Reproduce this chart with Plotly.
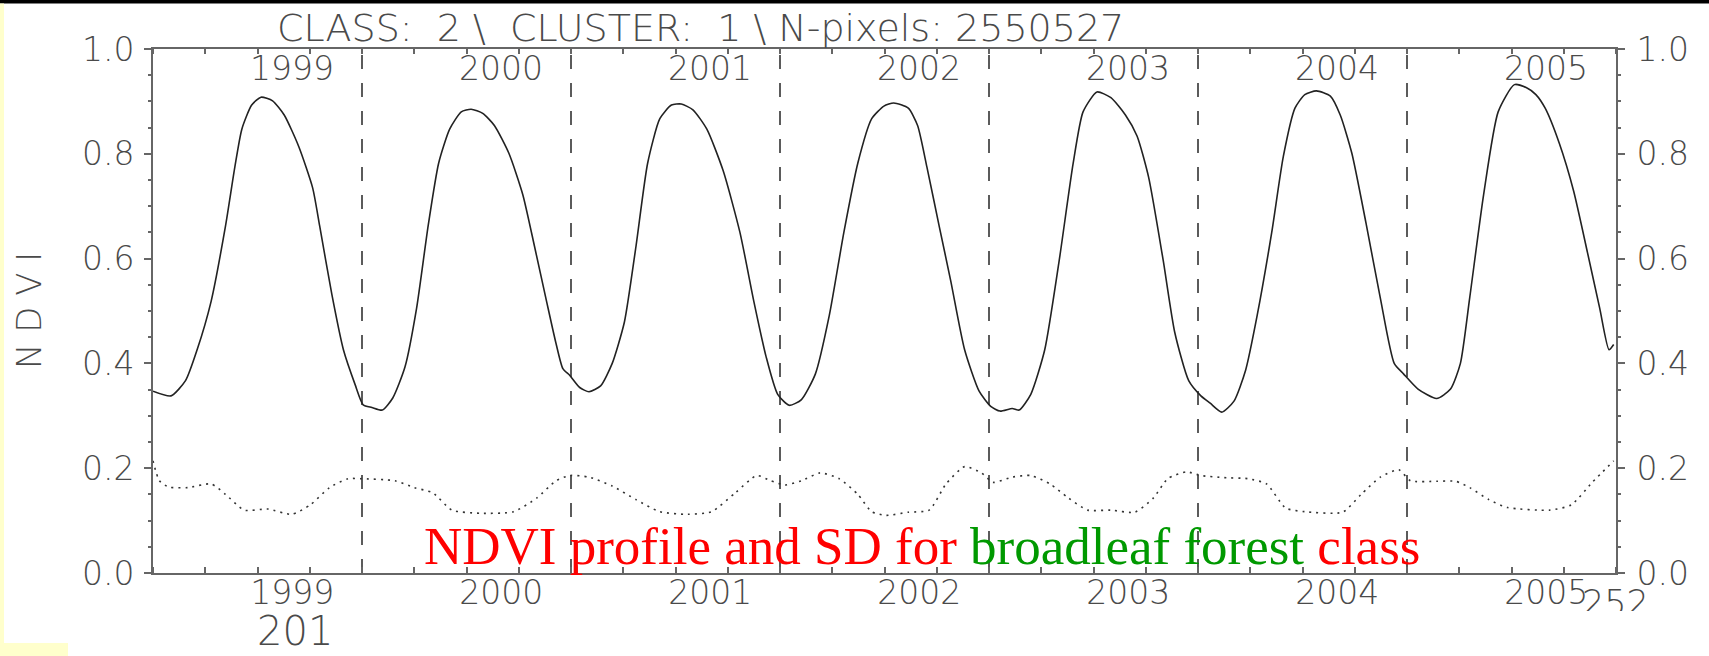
import plotly.graph_objects as go

# Mean NDVI profile of the class (dekad index since start of series, NDVI)
ndvi_dekad = [0, 3.1, 5.6, 7.6, 10.0, 12.5, 14.1, 15.3, 17.0, 18.6, 20.6, 22.6, 25.1, 27.5, 28.7,
              30.8, 32.8, 34.8, 36.2, 37.7, 39.5, 41.3, 43.4, 45.4, 47.4, 49.2, 51.1, 53.1, 54.8,
              56.8, 58.8, 61.3, 63.7, 65.7, 67.8, 69.4, 70.6, 71.8, 73.5, 75.1, 77.1, 79.1, 81.2,
              83.2, 85.2, 87.3, 89.3, 91.0, 93.0, 95.4, 98.2, 101.1, 103.5, 105.6, 107.6, 109.6,
              111.7, 114.1, 116.5, 119.0, 121.4, 123.8, 125.9, 127.6, 130.1, 131.7, 133.3, 135.4,
              137.4, 139.8, 142.3, 144.3, 145.9, 148.0, 149.2, 151.2, 153.6, 156.1, 158.5, 160.2,
              162.6, 165.0, 167.5, 169.5, 171.5, 174.0, 176.0, 178.4, 180.5, 182.1, 184.1, 186.2,
              188.2, 190.2, 192.7, 194.7, 196.7, 198.4, 200.4, 202.8, 204.5, 206.5, 208.9, 211.4,
              213.8, 215.4, 217.9, 221.1, 223.5, 225.2, 226.8, 229.2, 231.7, 234.5, 236.6, 238.2,
              239.8, 242.2, 244.7, 247.1, 249.2, 250.8, 251.6]
ndvi_mean = [0.347, 0.338, 0.367, 0.426, 0.518, 0.663, 0.775, 0.847, 0.893, 0.908, 0.901, 0.874,
             0.814, 0.735, 0.663, 0.532, 0.426, 0.360, 0.321, 0.316, 0.311, 0.334, 0.393, 0.505,
             0.663, 0.782, 0.847, 0.880, 0.885, 0.877, 0.854, 0.801, 0.722, 0.624, 0.518, 0.439,
             0.390, 0.377, 0.354, 0.346, 0.357, 0.400, 0.479, 0.624, 0.782, 0.867, 0.893, 0.895,
             0.884, 0.847, 0.768, 0.650, 0.518, 0.413, 0.341, 0.320, 0.331, 0.380, 0.492, 0.650,
             0.782, 0.867, 0.891, 0.897, 0.887, 0.854, 0.775, 0.663, 0.558, 0.426, 0.347, 0.318,
             0.309, 0.314, 0.311, 0.341, 0.426, 0.597, 0.782, 0.880, 0.918, 0.907, 0.874, 0.834,
             0.755, 0.597, 0.459, 0.367, 0.338, 0.324, 0.307, 0.328, 0.387, 0.492, 0.650, 0.795,
             0.887, 0.913, 0.920, 0.910, 0.874, 0.801, 0.670, 0.525, 0.400, 0.380, 0.351, 0.333,
             0.351, 0.400, 0.525, 0.722, 0.880, 0.932, 0.926, 0.913, 0.887, 0.821, 0.729, 0.611,
             0.505, 0.426, 0.436]

# Standard deviation of NDVI within the class
sd_dekad = [0, 1.1, 2.7, 6.0, 10.0, 12.5, 15.7, 19.8, 23.9, 27.1, 30.4, 33.6, 35.8, 41.7, 45.0,
            48.2, 51.5, 56.4, 62.1, 66.1, 69.4, 71.8, 75.1, 79.1, 83.2, 87.3, 92.1, 96.2, 100.3,
            104.0, 106.4, 108.8, 111.7, 114.9, 118.2, 121.4, 123.8, 126.3, 130.1, 133.7, 136.6,
            139.8, 142.7, 144.7, 148.0, 151.2, 154.5, 157.7, 161.0, 165.0, 169.1, 172.3, 174.8,
            178.0, 180.5, 184.5, 188.6, 191.8, 195.1, 198.4, 204.9, 208.1, 211.4, 214.6, 216.6,
            221.1, 224.4, 226.8, 230.1, 233.3, 240.6, 244.3, 247.9, 251.6]
ndvi_sd = [0.214, 0.176, 0.164, 0.163, 0.170, 0.150, 0.120, 0.122, 0.112, 0.130, 0.163, 0.180,
           0.180, 0.176, 0.163, 0.153, 0.120, 0.114, 0.117, 0.143, 0.176, 0.186, 0.183, 0.166,
           0.140, 0.117, 0.112, 0.117, 0.153, 0.186, 0.176, 0.168, 0.176, 0.191, 0.180, 0.150,
           0.117, 0.110, 0.116, 0.120, 0.170, 0.203, 0.191, 0.173, 0.183, 0.186, 0.170, 0.143,
           0.120, 0.120, 0.116, 0.143, 0.180, 0.193, 0.186, 0.182, 0.180, 0.170, 0.124, 0.117,
           0.116, 0.150, 0.183, 0.197, 0.176, 0.175, 0.175, 0.163, 0.140, 0.125, 0.120, 0.130,
           0.173, 0.214]

season_breaks = [36, 72, 108, 144, 180, 216]
year_labels = ["1999", "2000", "2001", "2002", "2003", "2004", "2005"]
year_label_pos = [24, 60, 96, 132, 168, 204, 240]
y_tick_vals = [0.0, 0.2, 0.4, 0.6, 0.8, 1.0]
y_tick_text = ["0.0", "0.2", "0.4", "0.6", "0.8", "1.0"]

# page geometry in pixels
W, H = 1709, 656
ML, MR, MT, MB = 153, 93, 49, 83
PW, PH = W - ML - MR, H - MT - MB


def px_x(px):
    return (px - ML) / PW


def px_y(py):
    return (H - MB - py) / PH


AX = "#666666"
TXT = "#4a4a4a"
FONT = "DejaVu Sans"
tickfont = dict(family=FONT, size=33, color=TXT, weight=300)

x_minor = list(range(0, 253, 9))
y_minor = [round(0.05 * k, 2) for k in range(21)]

fig = go.Figure()
fig.add_trace(go.Scatter(
    x=ndvi_dekad, y=ndvi_mean, mode="lines",
    line=dict(color="#222222", width=1.6, shape="spline", smoothing=0.6),
    hoverinfo="skip", showlegend=False))
fig.add_trace(go.Scatter(
    x=sd_dekad, y=ndvi_sd, mode="lines",
    line=dict(color="#333333", width=1.6, dash="2px,5px", shape="spline", smoothing=0.6),
    hoverinfo="skip", showlegend=False))
# carrier for the mirrored top / right axes
fig.add_trace(go.Scatter(x=[0], y=[0], xaxis="x2", yaxis="y2", mode="markers",
                         marker=dict(opacity=0), hoverinfo="skip", showlegend=False))

shapes = []
for b in season_breaks:
    shapes.append(dict(type="line", xref="x", yref="y", x0=b, x1=b, y0=0, y1=1,
                       line=dict(color="#333333", width=1.6, dash="14px,14px"), layer="below"))

# page frame pieces around the chart
shapes += [
    dict(type="rect", xref="paper", yref="paper", x0=px_x(0), x1=px_x(W),
         y0=px_y(3.5), y1=px_y(0), fillcolor="black", line=dict(width=0), layer="above"),
    dict(type="rect", xref="paper", yref="paper", x0=px_x(0), x1=px_x(4),
         y0=px_y(H), y1=px_y(3.5), fillcolor="#ffffcc", line=dict(width=0), layer="above"),
    dict(type="rect", xref="paper", yref="paper", x0=px_x(0), x1=px_x(68),
         y0=px_y(H), y1=px_y(643), fillcolor="#ffffcc", line=dict(width=0), layer="above"),
]

annotations = [
    dict(text="CLASS:  2 \\  CLUSTER:  1 \\ N-pixels: 2550527", xref="paper", yref="paper",
         x=px_x(700), y=px_y(28), xanchor="center", yanchor="middle", showarrow=False,
         font=dict(family=FONT, size=38, color=TXT, weight=300)),
    dict(text="N D V I", xref="paper", yref="paper", x=px_x(29), y=px_y(311),
         xanchor="center", yanchor="middle", textangle=-90, showarrow=False,
         font=dict(family=FONT, size=34, color=TXT, weight=300)),
    dict(text="201", xref="paper", yref="paper", x=px_x(295), y=px_y(656),
         xanchor="center", yanchor="bottom", showarrow=False,
         font=dict(family=FONT, size=40, color=TXT, weight=300)),
    dict(text="NDVI profile and SD for <span style='color:#009900'>broadleaf forest</span> class",
         xref="paper", yref="paper", x=px_x(922), y=px_y(546), xanchor="center",
         yanchor="middle", showarrow=False,
         font=dict(family="Liberation Serif", size=53, color="#ff0000")),
    # stray page label at the lower right; its lower half is masked by the white box after it
    dict(text="252", xref="paper", yref="paper", x=px_x(1615), y=px_y(603),
         xanchor="center", yanchor="middle", showarrow=False,
         font=dict(family=FONT, size=35, color=TXT, weight=300)),
    dict(text=" ", xref="paper", yref="paper", x=px_x(1572), y=px_y(611),
         xanchor="left", yanchor="top", showarrow=False, width=135, height=45,
         bgcolor="white", borderpad=0, borderwidth=0, font=dict(size=10)),
]
# year names along the inside of the top axis
for pos, lab in zip(year_label_pos, year_labels):
    annotations.append(dict(text=lab, xref="x", yref="paper", x=pos, y=px_y(69),
                            xanchor="center", yanchor="middle", showarrow=False,
                            font=tickfont))

common_x = dict(range=[0, 252], showline=True, linecolor=AX, linewidth=2, showgrid=False,
                zeroline=False, tickmode="array", tickvals=year_label_pos, ticktext=year_labels,
                ticks="", tickfont=tickfont, automargin=False)
common_y = dict(range=[0, 1], showline=True, linecolor=AX, linewidth=2, showgrid=False,
                zeroline=False, tickmode="array", tickvals=y_tick_vals, ticktext=y_tick_text,
                ticks="outside", ticklen=7, tickwidth=1.5, tickcolor=AX, tickfont=tickfont,
                automargin=False,
                minor=dict(tickmode="array", tickvals=y_minor, ticks="outside", ticklen=3,
                           tickwidth=1.5, tickcolor=AX, showgrid=False))

fig.update_layout(
    width=W, height=H,
    margin=dict(l=ML, r=MR, t=MT, b=MB, pad=0, autoexpand=False),
    paper_bgcolor="white", plot_bgcolor="white",
    showlegend=False,
    xaxis=dict(**common_x, ticklabelstandoff=-11,
               minor=dict(tickmode="array", tickvals=x_minor, ticks="inside", ticklen=6,
                          tickwidth=1.5, tickcolor=AX, showgrid=False)),
    xaxis2=dict(**common_x, overlaying="x", side="top", anchor="y2", showticklabels=False,
                minor=dict(tickmode="array", tickvals=x_minor, ticks="inside", ticklen=5,
                           tickwidth=1.5, tickcolor=AX, showgrid=False)),
    yaxis=dict(**common_y, ticklabelstandoff=3),
    yaxis2=dict(**common_y, overlaying="y", side="right", anchor="x2", ticklabelstandoff=5),
    shapes=shapes,
    annotations=annotations,
)

fig.write_html("out.html")
